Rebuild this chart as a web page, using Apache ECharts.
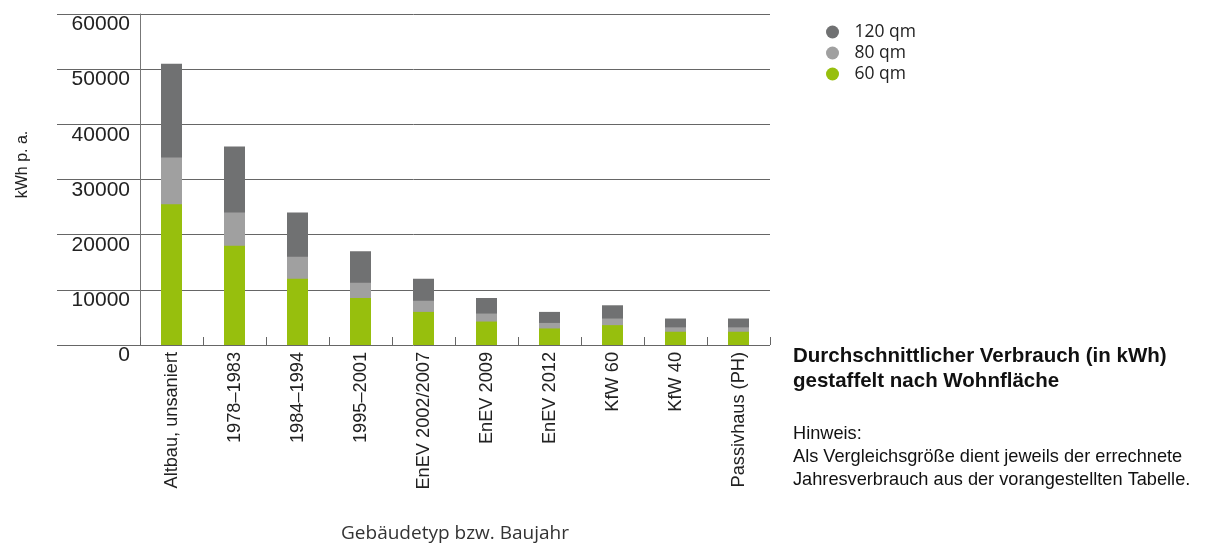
<!DOCTYPE html>
<html>
<head>
<meta charset="utf-8">
<script src="https://cdn.jsdelivr.net/npm/echarts@6/dist/echarts.min.js"></script>
<style>html,body{margin:0;padding:0;background:#fff;}#c{width:1210px;height:543px;}</style>
</head>
<body>
<div id="c"></div>
<script>
const categories = ['Altbau, unsaniert','1978–1983','1984–1994','1995–2001','EnEV 2002/2007','EnEV 2009','EnEV 2012','KfW 60','KfW 40','Passivhaus (PH)'];
const qm120 = [51000, 36000, 24000, 17000, 12000, 8500, 6000, 7200, 4800, 4800];
const qm80  = [34000, 24000, 16000, 11300, 8000, 5700, 4000, 4800, 3200, 3200];
const qm60  = [25500, 18000, 12000, 8500, 6000, 4250, 3000, 3600, 2400, 2400];
const yMin = 0, yMax = 60000, yStep = 10000;

const chart = echarts.init(document.getElementById('c'));
const fontMain = '"Liberation Sans", Arial, sans-serif';
const fontSoft = '"Open Sans", "Noto Sans", sans-serif';
chart.setOption({
  animation: false,
  title: [
    {text: 'Durchschnittlicher Verbrauch (in kWh)\ngestaffelt nach Wohnfläche', left: 793, top: 344, padding: 0,
     textStyle: {fontFamily: fontMain, fontSize: 20.5, fontWeight: 'bold', color: '#111', lineHeight: 25}},
    {text: 'Hinweis:\nAls Vergleichsgröße dient jeweils der errechnete\nJahresverbrauch aus der vorangestellten Tabelle.', left: 793, top: 422, padding: 0,
     textStyle: {fontFamily: fontMain, fontSize: 18.2, fontWeight: 'normal', color: '#111', lineHeight: 23}}
  ],
  legend: {
    orient: 'vertical', left: 826, top: 23, padding: 0, itemGap: 3, itemWidth: 14, itemHeight: 13, icon: 'circle',
    data: ['120 qm', '80 qm', '60 qm'],
    textStyle: {fontFamily: fontSoft, fontSize: 17.5, color: '#222', lineHeight: 13, padding: [0, 0, 0, 10]}
  },
  grid: [
    {left: 57, right: 440, top: 14, bottom: 198, outerBoundsMode: 'none'},
    {left: 140, right: 440, top: 14, bottom: 198, outerBoundsMode: 'none'}
  ],
  xAxis: [
    {gridIndex: 0, type: 'value', min: 0, max: 1, show: false},
    {gridIndex: 1, type: 'category', data: categories,
     axisLine: {show: false},
     axisTick: {show: true, inside: true, length: 8, lineStyle: {color: '#666'}},
     axisLabel: {rotate: 90, interval: 0, margin: 7, fontFamily: fontMain, fontSize: 18.2, color: '#222'},
     name: 'Gebäudetyp bzw. Baujahr', nameLocation: 'middle', nameGap: 179,
     nameTextStyle: {fontFamily: fontSoft, fontSize: 19, color: '#333'}}
  ],
  yAxis: [
    {gridIndex: 0, type: 'value', min: yMin, max: yMax, interval: yStep,
     axisLine: {show: false}, axisTick: {show: false},
     splitLine: {show: true, lineStyle: {color: '#666', width: 1}},
     axisLabel: {margin: -73, verticalAlign: 'top', fontFamily: fontMain, fontSize: 21, color: '#222',
                 formatter: function (v) { return String(v); }},
     name: 'kWh p. a.', nameLocation: 'middle', nameRotate: 90, nameGap: 26,
     nameTextStyle: {fontFamily: fontMain, fontSize: 16, color: '#222', padding: [0, 0, 0, 30]}},
    {gridIndex: 1, type: 'value', min: yMin, max: yMax, interval: yStep,
     axisLine: {show: true, lineStyle: {color: '#777', width: 1}}, axisTick: {show: false},
     splitLine: {show: false}, axisLabel: {show: false}}
  ],
  series: [
    {name: '120 qm', type: 'bar', xAxisIndex: 1, yAxisIndex: 1, data: qm120, barWidth: 21, barGap: '-100%', z: 2, itemStyle: {color: '#707172'}},
    {name: '80 qm', type: 'bar', xAxisIndex: 1, yAxisIndex: 1, data: qm80, barWidth: 21, barGap: '-100%', z: 3, itemStyle: {color: '#a0a0a0'}},
    {name: '60 qm', type: 'bar', xAxisIndex: 1, yAxisIndex: 1, data: qm60, barWidth: 21, barGap: '-100%', z: 4, itemStyle: {color: '#97bf0d'}}
  ]
});
</script>
</body>
</html>
